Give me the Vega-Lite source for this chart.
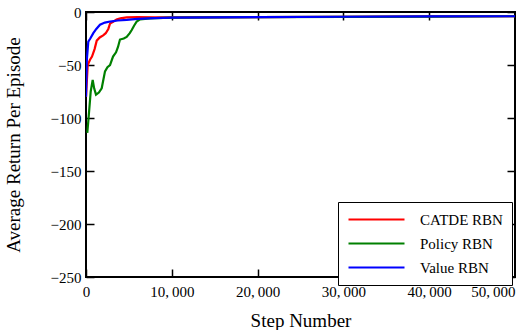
{
  "$schema": "https://vega.github.io/schema/vega-lite/v6.json",
  "width": 429,
  "height": 265,
  "autosize": {"type": "none"},
  "padding": {"left": 86, "top": 12, "right": 1, "bottom": 53},
  "background": "white",
  "config": {
    "font": "Liberation Serif, Times New Roman, serif",
    "view": {"stroke": "black", "strokeWidth": 2},
    "legend": {"labelFont": "Liberation Serif, Times New Roman, serif"},
    "axis": {"grid": false, "domain": false, "tickColor": "black", "tickWidth": 1.5, "labelColor": "black", "titleColor": "black", "labelFont": "Liberation Serif, Times New Roman, serif", "titleFont": "Liberation Serif, Times New Roman, serif", "labelFontSize": 15, "titleFontSize": 19, "titleFontWeight": "normal", "zindex": 1}
  },
  "data": {"values": [
    {"step": 0, "ret": -80, "method": "CATDE RBN"},
    {"step": 200, "ret": -50, "method": "CATDE RBN"},
    {"step": 466, "ret": -45, "method": "CATDE RBN"},
    {"step": 700, "ret": -42, "method": "CATDE RBN"},
    {"step": 1000, "ret": -35, "method": "CATDE RBN"},
    {"step": 1250, "ret": -27, "method": "CATDE RBN"},
    {"step": 1600, "ret": -24, "method": "CATDE RBN"},
    {"step": 2000, "ret": -22, "method": "CATDE RBN"},
    {"step": 2300, "ret": -20, "method": "CATDE RBN"},
    {"step": 2600, "ret": -16, "method": "CATDE RBN"},
    {"step": 2800, "ret": -11, "method": "CATDE RBN"},
    {"step": 3200, "ret": -9, "method": "CATDE RBN"},
    {"step": 3560, "ret": -7, "method": "CATDE RBN"},
    {"step": 4000, "ret": -6, "method": "CATDE RBN"},
    {"step": 4740, "ret": -5, "method": "CATDE RBN"},
    {"step": 6000, "ret": -4.8, "method": "CATDE RBN"},
    {"step": 8000, "ret": -5, "method": "CATDE RBN"},
    {"step": 10000, "ret": -5.1, "method": "CATDE RBN"},
    {"step": 20000, "ret": -4.8, "method": "CATDE RBN"},
    {"step": 30000, "ret": -4.5, "method": "CATDE RBN"},
    {"step": 40000, "ret": -4.2, "method": "CATDE RBN"},
    {"step": 50000, "ret": -4, "method": "CATDE RBN"},
    {"step": 150, "ret": -114, "method": "Policy RBN"},
    {"step": 300, "ret": -100, "method": "Policy RBN"},
    {"step": 550, "ret": -75, "method": "Policy RBN"},
    {"step": 780, "ret": -64, "method": "Policy RBN"},
    {"step": 950, "ret": -72, "method": "Policy RBN"},
    {"step": 1165, "ret": -78, "method": "Policy RBN"},
    {"step": 1500, "ret": -76, "method": "Policy RBN"},
    {"step": 1830, "ret": -72, "method": "Policy RBN"},
    {"step": 2215, "ret": -56, "method": "Policy RBN"},
    {"step": 2500, "ret": -52, "method": "Policy RBN"},
    {"step": 2800, "ret": -50, "method": "Policy RBN"},
    {"step": 3150, "ret": -42, "method": "Policy RBN"},
    {"step": 3500, "ret": -38, "method": "Policy RBN"},
    {"step": 3730, "ret": -33, "method": "Policy RBN"},
    {"step": 3960, "ret": -26, "method": "Policy RBN"},
    {"step": 4400, "ret": -25, "method": "Policy RBN"},
    {"step": 4740, "ret": -23.5, "method": "Policy RBN"},
    {"step": 5100, "ret": -20, "method": "Policy RBN"},
    {"step": 5330, "ret": -17, "method": "Policy RBN"},
    {"step": 5600, "ret": -13, "method": "Policy RBN"},
    {"step": 5910, "ret": -9, "method": "Policy RBN"},
    {"step": 6300, "ret": -7, "method": "Policy RBN"},
    {"step": 7460, "ret": -6, "method": "Policy RBN"},
    {"step": 9000, "ret": -5.5, "method": "Policy RBN"},
    {"step": 10000, "ret": -5.3, "method": "Policy RBN"},
    {"step": 20000, "ret": -4.9, "method": "Policy RBN"},
    {"step": 30000, "ret": -4.6, "method": "Policy RBN"},
    {"step": 40000, "ret": -4.3, "method": "Policy RBN"},
    {"step": 50000, "ret": -4, "method": "Policy RBN"},
    {"step": 0, "ret": -80, "method": "Value RBN"},
    {"step": 100, "ret": -45, "method": "Value RBN"},
    {"step": 268, "ret": -28, "method": "Value RBN"},
    {"step": 500, "ret": -25, "method": "Value RBN"},
    {"step": 850, "ret": -20, "method": "Value RBN"},
    {"step": 1200, "ret": -16, "method": "Value RBN"},
    {"step": 1630, "ret": -12, "method": "Value RBN"},
    {"step": 2200, "ret": -10, "method": "Value RBN"},
    {"step": 2800, "ret": -9, "method": "Value RBN"},
    {"step": 3700, "ret": -8, "method": "Value RBN"},
    {"step": 4740, "ret": -7.5, "method": "Value RBN"},
    {"step": 6000, "ret": -6.5, "method": "Value RBN"},
    {"step": 8000, "ret": -5.8, "method": "Value RBN"},
    {"step": 10000, "ret": -5.3, "method": "Value RBN"},
    {"step": 20000, "ret": -4.8, "method": "Value RBN"},
    {"step": 30000, "ret": -4.5, "method": "Value RBN"},
    {"step": 40000, "ret": -4.2, "method": "Value RBN"},
    {"step": 50000, "ret": -4, "method": "Value RBN"}
  ]},
  "layer": [
    {
      "mark": {"type": "line", "strokeWidth": 2.2, "clip": true},
      "encoding": {
        "x": {"field": "step", "type": "quantitative", "scale": {"domain": [0, 50000], "nice": false},
              "axis": {"orient": "bottom", "title": "Step Number", "values": [0, 10000, 20000, 30000, 40000, 50000], "labelExpr": "replace(format(datum.value, ','), ',', ',\u2009')", "tickSize": -8, "labelPadding": 15, "titlePadding": 12,
                       "labelAlign": {"condition": {"test": "datum.value == 50000", "value": "right"}, "value": "center"}}},
        "y": {"field": "ret", "type": "quantitative", "scale": {"domain": [-250, 0], "nice": false},
              "axis": {"orient": "left", "title": "Average Return Per Episode", "values": [0, -50, -100, -150, -200, -250], "tickSize": -8, "labelPadding": 13, "titlePadding": 27}},
        "color": {"field": "method", "type": "nominal",
                  "scale": {"domain": ["CATDE RBN", "Policy RBN", "Value RBN"], "range": ["#ff0000", "#008000", "#0000ff"]},
                  "legend": {"title": null, "orient": "none", "legendX": 252, "legendY": 190, "symbolType": "M-1,0H7", "symbolSize": 196, "symbolStrokeWidth": 2.2, "labelFontSize": 15, "labelColor": "black", "strokeColor": "black", "fillColor": "white", "padding": 9, "rowPadding": 7, "labelOffset": 56, "cornerRadius": 0}}
      }
    },
    {
      "mark": {"type": "line", "opacity": 0},
      "encoding": {
        "x": {"field": "step", "type": "quantitative",
              "axis": {"orient": "top", "title": null, "labels": false, "values": [0, 10000, 20000, 30000, 40000, 50000], "tickSize": -8}},
        "y": {"field": "ret", "type": "quantitative",
              "axis": {"orient": "right", "title": null, "labels": false, "values": [0, -50, -100, -150, -200, -250], "tickSize": -8}}
      }
    }
  ],
  "resolve": {"axis": {"x": "independent", "y": "independent"}}
}
